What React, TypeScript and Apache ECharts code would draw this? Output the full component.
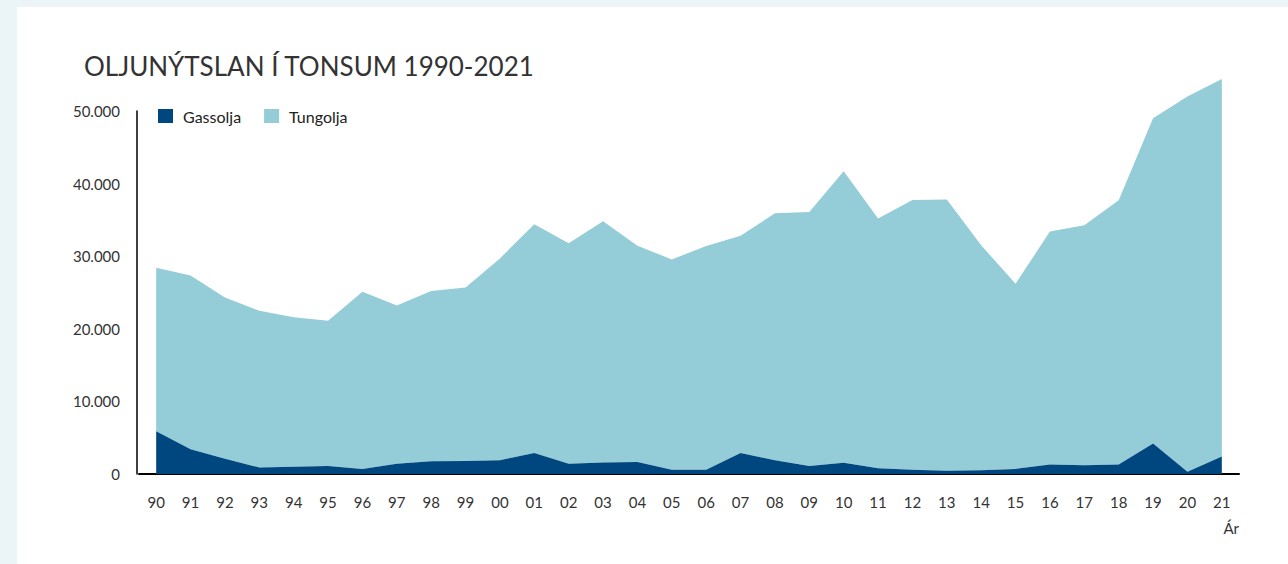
import React, { useEffect, useRef } from "react";
import * as echarts from "echarts";

const years = [
  "90", "91", "92", "93", "94", "95", "96", "97", "98", "99",
  "00", "01", "02", "03", "04", "05", "06", "07", "08", "09",
  "10", "11", "12", "13", "14", "15", "16", "17", "18", "19",
  "20", "21",
];

const gassolja = [
  5900, 3400, 2100, 900, 1000, 1100, 700, 1400, 1750, 1800,
  1900, 2900, 1400, 1600, 1650, 600, 600, 2900, 1900, 1100,
  1550, 800, 600, 450, 500, 700, 1300, 1200, 1300, 4200,
  300, 2400,
];

const tungolja = [
  22500, 23950, 22200, 21600, 20600, 20000, 24400, 21800, 23450, 23900,
  27800, 31500, 30400, 33200, 29800, 28950, 30800, 29900, 34000, 35000,
  40150, 34400, 37150, 37350, 31000, 25500, 32100, 33050, 36400, 44800,
  51700, 52000,
];

const yTicks = { min: 0, max: 50000, interval: 10000 };

const TITLE = "OLJUNÝTSLAN Í TONSUM 1990-2021";
const FONT = "Lato, 'Noto Sans', sans-serif";
const DARK = "#00477f";
const LIGHT = "#94ccd8";

function fmt(v: number): string {
  return String(v).replace(/\B(?=(\d{3})+(?!\d))/g, ".");
}

export default function App() {
  const ref = useRef<HTMLDivElement>(null);

  useEffect(() => {
    if (!ref.current) return;
    const chart = echarts.init(ref.current, undefined, { renderer: "svg" });
    chart.setOption({
      animation: false,
      backgroundColor: "#ffffff",
      textStyle: { fontFamily: FONT },
      title: {
        text: TITLE,
        left: 67,
        top: 46,
        padding: 0,
        textStyle: {
          fontFamily: FONT,
          fontSize: 26,
          fontWeight: "normal",
          color: "#333333",
        },
      },
      legend: {
        left: 141,
        top: 101,
        padding: 0,
        itemWidth: 15,
        itemHeight: 14,
        itemGap: 23,
        icon: "rect",
        textStyle: { fontFamily: FONT, fontSize: 16, color: "#222222", padding: [0, 0, 0, 5] },
        data: ["Gassolja", "Tungolja"],
      },
      grid: { left: 122, right: 49, top: 104, bottom: 90, containLabel: false },
      xAxis: {
        type: "category",
        data: years,
        boundaryGap: true,
        axisLine: { show: true, lineStyle: { color: "#000000", width: 2 } },
        axisTick: { show: false },
        axisLabel: { fontFamily: FONT, fontSize: 15, color: "#333333", margin: 20, interval: 0 },
        name: "Ár",
        nameLocation: "end",
        nameGap: 0,
        nameTextStyle: {
          fontFamily: FONT,
          fontSize: 15,
          color: "#333333",
          align: "right",
          verticalAlign: "top",
          padding: [46, 0, 0, 0],
        },
      },
      yAxis: {
        type: "value",
        min: yTicks.min,
        max: yTicks.max,
        interval: yTicks.interval,
        offset: 2,
        axisLine: { show: true, lineStyle: { color: "#000000", width: 1.5 } },
        axisTick: { show: false },
        splitLine: { show: false },
        axisLabel: {
          fontFamily: FONT,
          fontSize: 15,
          color: "#333333",
          margin: 17,
          formatter: (v: number) => fmt(v),
        },
      },
      series: [
        {
          name: "Gassolja",
          type: "line",
          stack: "total",
          data: gassolja,
          showSymbol: false,
          clip: false,
          lineStyle: { width: 0 },
          itemStyle: { color: DARK },
          areaStyle: { color: DARK, opacity: 1 },
          z: 3,
        },
        {
          name: "Tungolja",
          type: "line",
          stack: "total",
          data: tungolja,
          showSymbol: false,
          clip: false,
          lineStyle: { width: 0 },
          itemStyle: { color: LIGHT },
          areaStyle: { color: LIGHT, opacity: 1 },
          z: 2,
        },
      ],
    });
    return () => chart.dispose();
  }, []);

  return (
    <div
      style={{
        position: "absolute",
        left: 0,
        top: 0,
        width: 1288,
        height: 564,
        background: "#ebf4f7",
        overflow: "hidden",
      }}
    >
      <div
        style={{ position: "absolute", left: 17, top: 7, width: 1271, height: 557, background: "#ffffff" }}
      >
        <div ref={ref} style={{ width: 1271, height: 557 }} />
      </div>
    </div>
  );
}
